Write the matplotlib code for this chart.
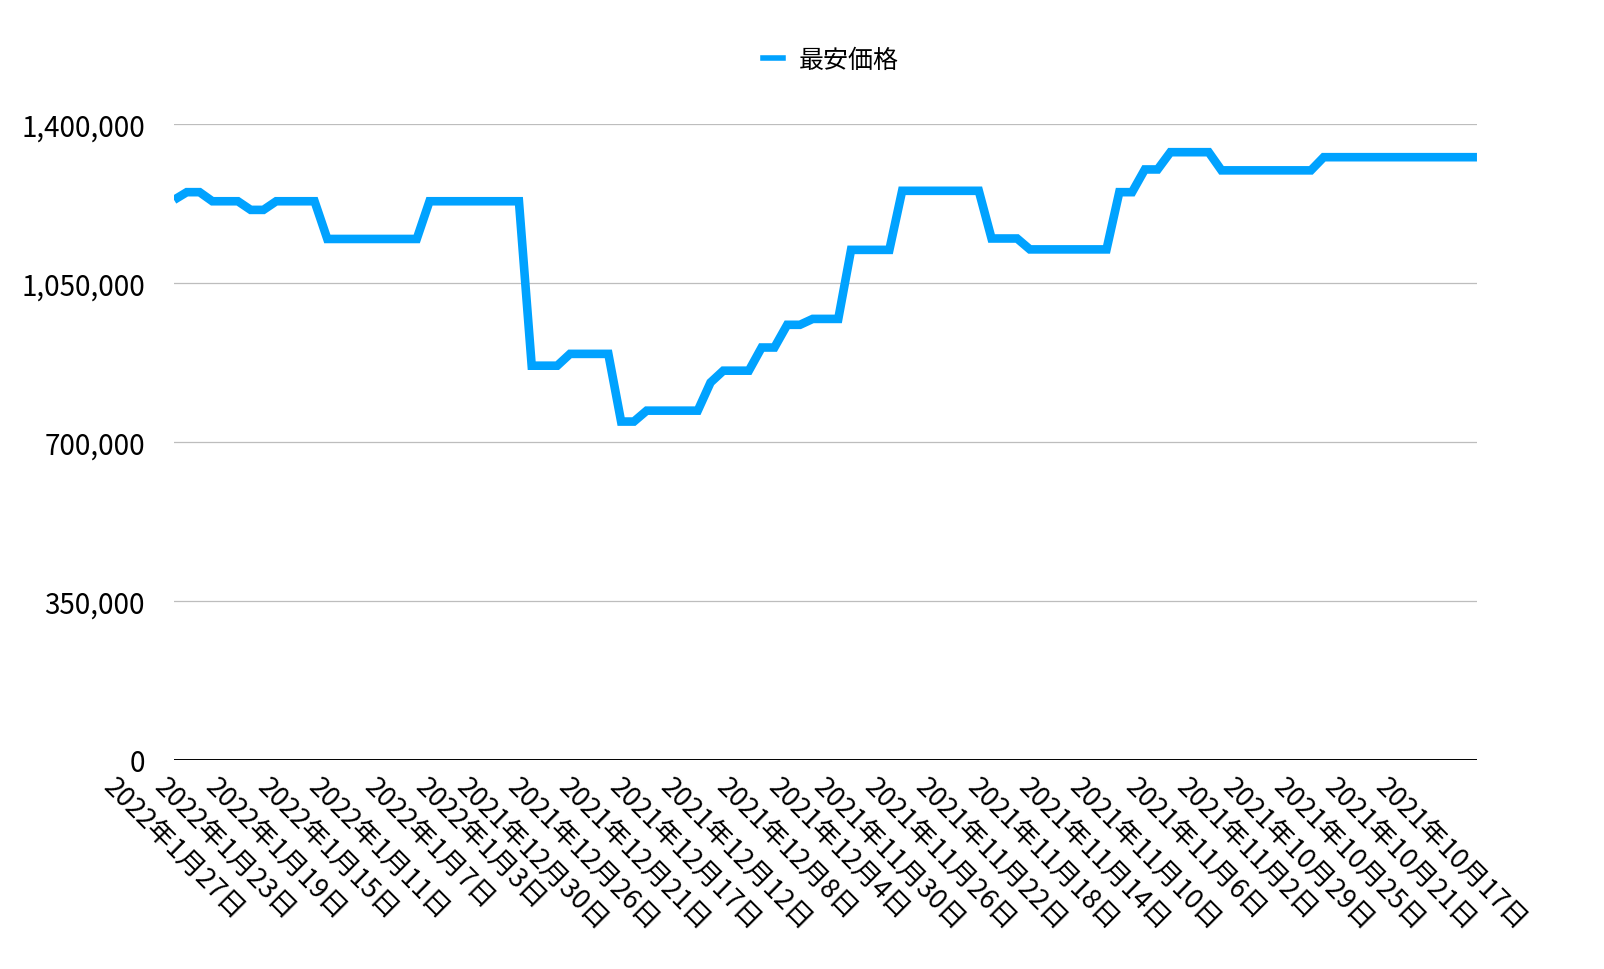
import numpy as np
import matplotlib
matplotlib.use("Agg")
import matplotlib.pyplot as plt
from matplotlib.lines import Line2D

plt.rcParams['font.family'] = ['Noto Sans CJK JP', 'DejaVu Sans']

# 最安価格 (新しい日付 -> 古い日付)
precios = (
    [1233000, 1250000, 1250000, 1230000, 1230000, 1230000, 1211000, 1211000,
     1230000, 1230000, 1230000, 1230000]
    + [1147000] * 8
    + [1230000] * 8
    + [868000] * 3
    + [894000] * 4
    + [745000, 745000]
    + [769000] * 5
    + [831000]
    + [857000] * 3
    + [908000] * 2
    + [958000] * 2
    + [971000] * 3
    + [1123000] * 4
    + [1253000] * 7
    + [1148000] * 3
    + [1124000] * 7
    + [1250000] * 2
    + [1300000] * 2
    + [1338000] * 4
    + [1298000] * 8
    + [1327000] * 13
)

etiquetas = ['2022年1月27日', '2022年1月23日', '2022年1月19日', '2022年1月15日',
             '2022年1月11日', '2022年1月7日', '2022年1月3日', '2021年12月30日',
             '2021年12月26日', '2021年12月21日', '2021年12月17日', '2021年12月12日',
             '2021年12月8日', '2021年12月4日', '2021年11月30日', '2021年11月26日',
             '2021年11月22日', '2021年11月18日', '2021年11月14日', '2021年11月10日',
             '2021年11月6日', '2021年11月2日', '2021年10月29日', '2021年10月25日',
             '2021年10月21日', '2021年10月17日']

y_ticks = [0, 350000, 700000, 1050000, 1400000]
color = '#00A2FF'

fig = plt.figure(figsize=(16.04, 9.70), dpi=100)
ax = fig.add_axes([0.1085, 0.2155, 0.8123, 0.6556])

x = np.arange(len(precios))
ax.plot(x, precios, color=color, lw=6.2, solid_joinstyle='miter', solid_capstyle='butt')

ax.set_xlim(0, len(precios) - 1)
ax.set_ylim(0, 1400000)
ax.set_yticks(y_ticks)
ax.set_yticklabels([f'{v:,}' for v in y_ticks])
ax.yaxis.grid(True, color='#BDBDBD', lw=0.9)
ax.set_axisbelow(True)
ax.axhline(0, color='black', lw=1.4, zorder=3)

ax.set_xticks(x[::4])
ax.set_xticklabels(etiquetas, rotation=-45, ha='center', va='top')

for s in ax.spines.values():
    s.set_visible(False)
ax.tick_params(axis='y', length=0, pad=21, labelsize=20)
ax.tick_params(axis='x', length=0, pad=9, labelsize=19.5)

handle = Line2D([], [], color=color, lw=4)
fig.legend([handle], ['最安価格'], loc='center', bbox_to_anchor=(0.518, 1 - 61 / 970),
           frameon=False, fontsize=18, handlelength=0.8, handletextpad=0.6)

fig.savefig('out.png', dpi=100)
